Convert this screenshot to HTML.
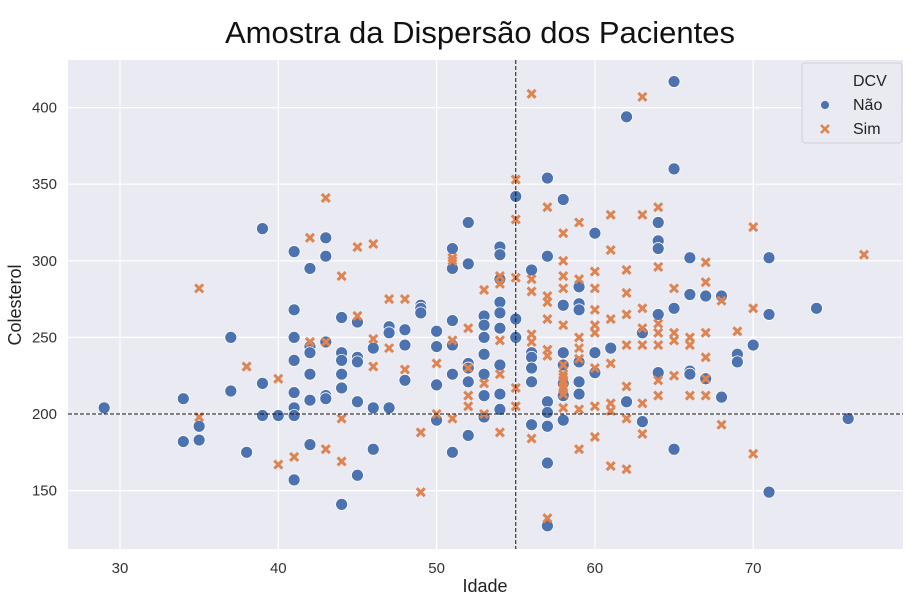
<!DOCTYPE html>
<html><head><meta charset="utf-8"><style>
body{margin:0;background:#fff;font-family:"Liberation Sans","DejaVu Sans",sans-serif;}
</style></head><body>
<svg id="chart" width="916" height="603" xmlns="http://www.w3.org/2000/svg" style="font-family:'Liberation Sans','DejaVu Sans',sans-serif">
<rect x="0" y="0" width="916" height="603" fill="#fff"/>
<text x="480" y="43" text-anchor="middle" font-size="31" fill="#111">Amostra da Dispersão dos Pacientes</text>
<rect x="68" y="60" width="835" height="489" fill="#eaeaf2"/>
<g id="grid"></g>
<g id="refs"></g>
<g id="marks"></g>
<g id="axes"></g>
<text x="485" y="592" text-anchor="middle" font-size="18" fill="#222">Idade</text>
<text transform="translate(21,305) rotate(-90)" text-anchor="middle" font-size="18" fill="#222">Colesterol</text>
<g>
<rect x="802" y="63" width="100" height="80" rx="3" fill="#eaeaf2" stroke="#d0d0d8"/>
<text x="853" y="86" font-size="16" fill="#222">DCV</text>
<circle cx="825" cy="105" r="4" fill="#4c72b0"/>
<text x="853" y="110" font-size="16" fill="#222">Não</text>
<path d="M821,125 L829,133 M829,125 L821,133" stroke="#dd8452" stroke-width="2.6"/>
<text x="853" y="134" font-size="16" fill="#222">Sim</text>
</g>
</svg>
<script>
const xTicks=[30,40,50,60,70];
const yTicks=[150,200,250,300,350,400];
const naoAges=[29,34,34,35,35,37,37,38,39,39,39,40,41,41,41,41,41,41,41,41,42,42,42,42,42,42,43,43,43,43,43,44,44,44,44,44,44,45,45,45,45,45,46,46,46,47,47,47,48,48,48,49,49,49,50,50,50,50,51,51,51,51,51,51,52,52,52,52,52,52,53,53,53,53,53,53,53,54,54,54,54,54,54,54,54,54,55,55,55,56,56,56,56,56,56,57,57,57,57,57,57,57,58,58,58,58,58,58,58,59,59,59,59,59,59,60,60,60,61,62,62,63,63,64,64,64,64,64,65,65,65,65,66,66,66,66,67,67,68,68,69,69,70,71,71,71,74,76];
const naoChol=[204,210,182,192,183,250,215,175,321,220,199,199,306,268,250,235,214,204,199,157,295,244,240,226,209,180,315,303,247,212,210,263,240,235,226,217,141,260,237,234,208,160,243,204,177,257,253,204,255,245,222,271,269,266,254,244,219,196,308,295,261,245,226,175,325,298,233,230,186,221,264,258,250,239,226,212,198,309,304,288,273,266,256,232,213,203,342,262,250,294,240,237,230,221,193,354,303,208,201,192,168,127,340,271,240,232,220,212,196,283,272,268,234,221,213,318,240,227,243,394,208,253,195,325,313,308,265,227,417,360,269,177,302,278,228,226,277,223,277,211,239,234,245,302,265,149,269,197];
const simAges=[35,35,38,40,40,41,42,42,43,43,43,44,44,44,45,45,46,46,46,47,47,48,48,49,49,50,50,51,51,51,51,52,52,52,52,53,53,53,54,54,54,54,54,55,55,55,55,55,56,56,56,56,56,56,57,57,57,57,57,57,57,58,58,58,58,58,58,58,58,58,58,58,58,58,59,59,59,59,59,59,59,60,60,60,60,60,60,60,60,61,61,61,61,61,61,61,62,62,62,62,62,62,62,63,63,63,63,63,63,63,64,64,64,64,64,64,64,65,65,65,65,66,66,66,67,67,67,67,67,67,68,68,69,70,70,70,77];
const simChol=[282,198,231,223,167,172,315,247,341,247,177,290,197,169,309,264,311,249,231,275,243,275,229,188,149,233,200,302,300,248,197,256,212,205,230,281,220,200,290,285,248,226,188,353,327,289,217,205,409,288,280,252,247,184,335,277,273,262,242,238,132,318,300,290,282,258,224,213,204,221,218,232,226,216,325,288,250,243,236,203,177,293,282,268,258,253,230,205,185,330,307,262,233,207,202,166,294,279,265,245,218,197,164,407,330,269,256,245,207,187,335,296,259,253,245,222,212,282,253,248,225,250,245,212,299,286,253,237,223,212,274,193,254,322,269,174,304];
const refAge=55, refChol=200;
const NS="http://www.w3.org/2000/svg";
const X=v=>120+(v-30)*15.83;
const Y=v=>414-(v-200)*1.532;
function mk(tag,attrs,parent){const e=document.createElementNS(NS,tag);for(const k in attrs)e.setAttribute(k,attrs[k]);document.getElementById(parent).appendChild(e);return e;}
xTicks.forEach(t=>{
  const l=mk('line',{x1:X(t),x2:X(t),y1:60,y2:549,stroke:'#fff','stroke-width':1.2},'grid');
  
  
  const tx=mk('text',{x:X(t),y:573,'text-anchor':'middle','font-size':15,fill:'#333'},'axes');
  tx.textContent=t;
  
  
});
yTicks.forEach(t=>{
  const l=mk('line',{x1:68,x2:903,y1:Y(t),y2:Y(t),stroke:'#fff','stroke-width':1.2},'grid');
  
  
  const tx=mk('text',{x:57,y:Y(t)+5,'text-anchor':'end','font-size':15,fill:'#333'},'axes');
  tx.textContent=t;
  
  
});
naoAges.forEach((a,i)=>{
  const c=mk('circle',{cx:X(a),cy:Y(naoChol[i]),r:6,fill:'#4c72b0',stroke:'#fff','stroke-width':0.8},'marks');
  
  
});
simAges.forEach((a,i)=>{
  const x=X(a),y=Y(simChol[i]),s=4;
  const p=mk('path',{d:`M${x-s},${y-s}L${x+s},${y+s}M${x+s},${y-s}L${x-s},${y+s}`,stroke:'#dd8452','stroke-width':3},'marks');
  
  
});
const v=mk('line',{x1:X(refAge),x2:X(refAge),y1:60,y2:549,stroke:'#111','stroke-width':1,'stroke-dasharray':'4,2'},'marks');


const h=mk('line',{x1:68,x2:903,y1:Y(refChol),y2:Y(refChol),stroke:'#111','stroke-width':1,'stroke-dasharray':'4,2'},'marks');


</script>
</body></html>
